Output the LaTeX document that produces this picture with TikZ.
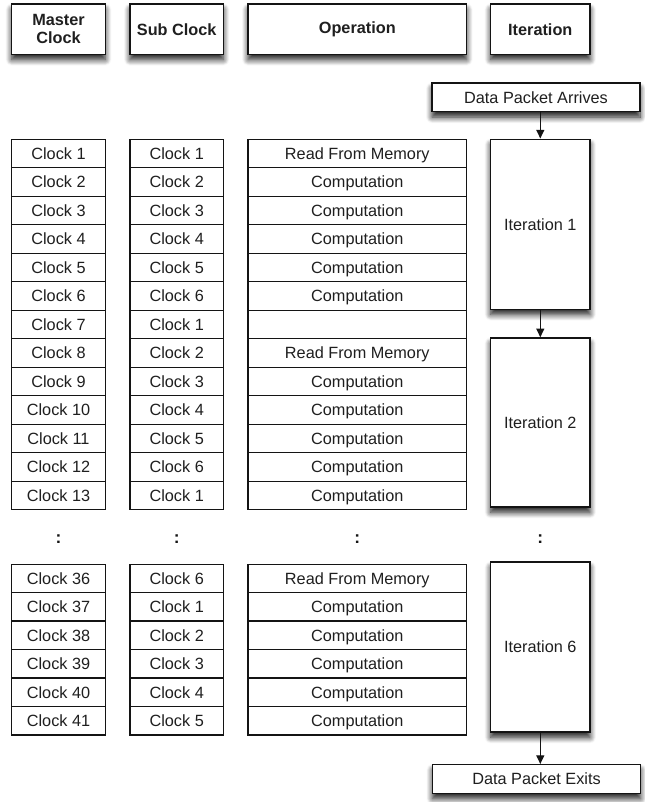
\documentclass[tikz,border=0pt]{standalone}
\usepackage{fontspec}
\setmainfont{Liberation Sans}
\usetikzlibrary{positioning,arrows.meta,fit,backgrounds,shadows.blur}
\definecolor{cLine}{HTML}{141414}
\definecolor{cText}{HTML}{1f1f1f}
\tikzset{
  >={Triangle[length=2.3mm,width=2.1mm]},
  cell/.style={draw=cLine,line width=1pt,fill=white,align=center,inner sep=0pt,
               font=\fontsize{12.2}{13}\selectfont,text=cText,minimum height=21.4pt,
               text height=9.5pt,text depth=0.7pt},
  shd/.style={blur shadow={shadow xshift=0pt,shadow yshift=-4pt,
               shadow blur radius=4.5pt,shadow blur steps=10,shadow opacity=90}},
  hdr/.style={cell,shd,font=\bfseries\fontsize{12.2}{13.5}\selectfont,minimum height=37.7pt,
              text height=,text depth=},
  mcell/.style={cell,minimum width=70.2pt},
  scell/.style={cell,minimum width=70pt},
  ocell/.style={cell,minimum width=163.9pt},
  icell/.style={cell,shd,minimum width=74.5pt,minimum height=127.5pt},
  pkt/.style={cell,shd,minimum width=156pt,minimum height=21.5pt},
  blk/.style={shd,fill=white,inner sep=0pt},
  arr/.style={->,line width=1pt,cLine},
  dots/.style={font=\bfseries\fontsize{13}{14}\selectfont,text=cLine},
}

\begin{document}
\begin{tikzpicture}[x=0.75pt,y=-0.75pt]
  \useasboundingbox (0,0) rectangle (645,802);
  % headers
  \node[hdr,minimum width=70.2pt] (hm) at (58.5,29.2) {Master\\Clock};
  \node[hdr,minimum width=70pt] (hs) at (176.7,29.2) {Sub Clock};
  \node[hdr,minimum width=163.9pt] (ho) at (357.3,29.2) {Operation};
  \node[hdr,minimum width=74.5pt] (hi) at (540.3,29.2) {Iteration};
  % first block of clocks
  \foreach \i/\s/\o in {1/1/Read From Memory,2/2/Computation,3/3/Computation,
      4/4/Computation,5/5/Computation,6/6/Computation,7/1/{},
      8/2/Read From Memory,9/3/Computation,10/4/Computation,
      11/5/Computation,12/6/Computation,13/1/Computation}{
    \node[mcell] (m\i) at (58.5,{139.3+(\i-0.5)*28.5}) {Clock \i};
    \node[scell] (s\i) at (176.7,{139.3+(\i-0.5)*28.5}) {Clock \s};
    \node[ocell] (o\i) at (357.3,{139.3+(\i-0.5)*28.5}) {\o};
  }
  % last block of clocks
  \foreach \j/\i/\s/\o in {1/36/6/Read From Memory,2/37/1/Computation,
      3/38/2/Computation,4/39/3/Computation,5/40/4/Computation,6/41/5/Computation}{
    \node[mcell] (m\i) at (58.5,{564.3+(\j-0.5)*28.45}) {Clock \i};
    \node[scell] (s\i) at (176.7,{564.3+(\j-0.5)*28.45}) {Clock \s};
    \node[ocell] (o\i) at (357.3,{564.3+(\j-0.5)*28.45}) {\o};
  }
  \begin{scope}[on background layer]
    \node[blk,fit=(m1)(m13)] {};
    \node[blk,fit=(s1)(s13)] {};
    \node[blk,fit=(o1)(o7)] {};
    \node[blk,fit=(o8)(o13)] {};
    \node[blk,fit=(m36)(m41)] {};
    \node[blk,fit=(s36)(s41)] {};
    \node[blk,fit=(o36)(o41)] {};
  \end{scope}
  % iterations
  \node[pkt] (pin) at (536,97.5) {Data Packet Arrives};
  \node[icell] (it1) at (540.3,224.2) {Iteration 1};
  \node[icell,minimum height=126.8pt] (it2) at (540.3,422.5) {Iteration 2};
  \node[icell] (it6) at (540.3,647) {Iteration 6};
  \node[pkt] (pout) at (536.5,779) {Data Packet Exits};
  \draw[arr] (it1.north |- pin.south) -- (it1.north);
  \draw[arr] (it1.south) -- (it2.north);
  \draw[arr] (it6.south) -- (it6.south |- pout.north);
  % gap
  \node[dots] (dm) at (58.5,539) {:};
  \node[dots] (ds) at (176.7,539) {:};
  \node[dots] (do) at (357.3,539) {:};
  \node[dots] (di) at (540.3,539) {:};
\end{tikzpicture}
\end{document}
